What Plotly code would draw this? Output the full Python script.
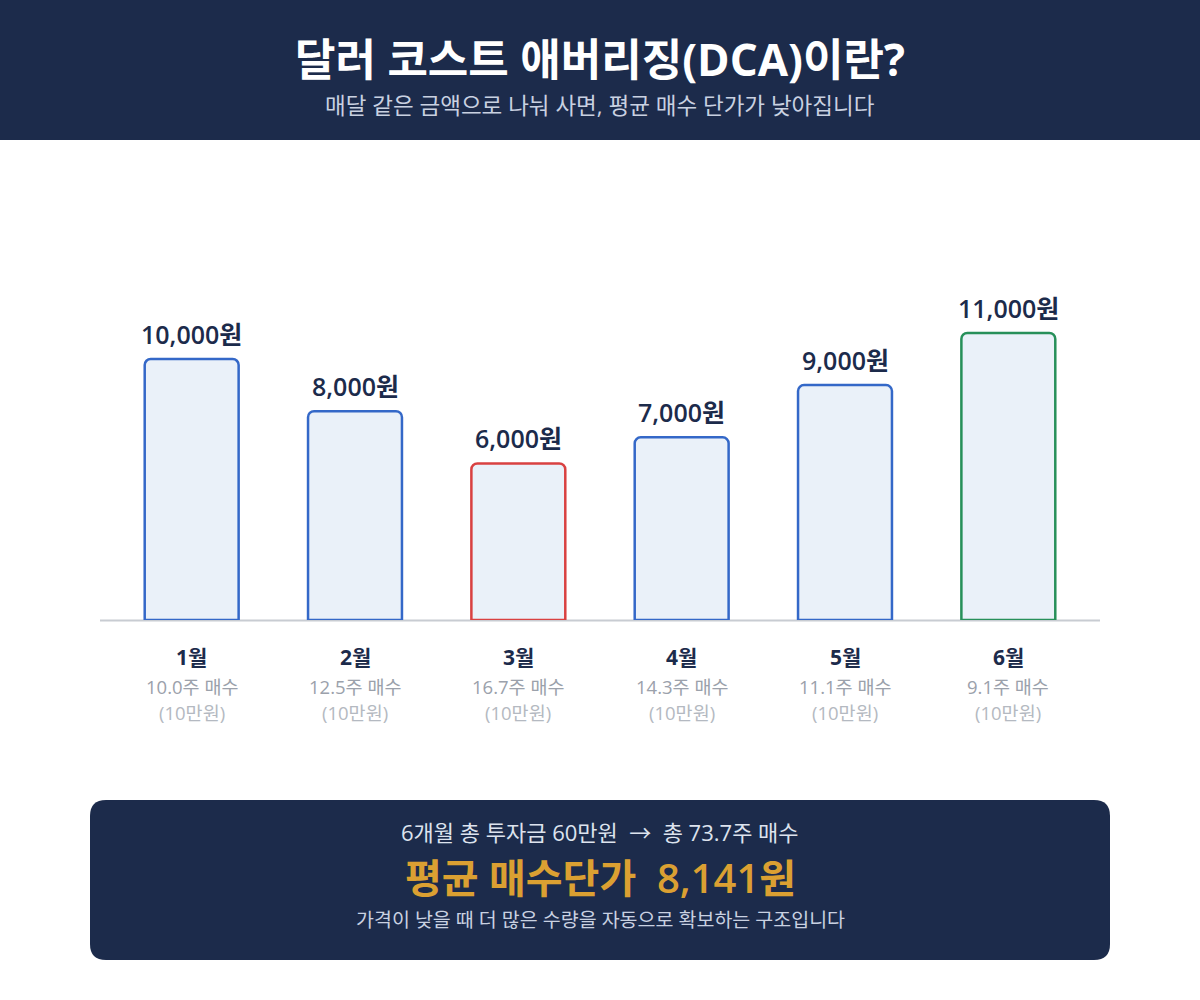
import plotly.graph_objects as go

months = ["1월", "2월", "3월", "4월", "5월", "6월"]
prices = [10000, 8000, 6000, 7000, 9000, 11000]
shares = ["10.0주 매수", "12.5주 매수", "16.7주 매수", "14.3주 매수", "11.1주 매수", "9.1주 매수"]
invest = ["(10만원)"] * 6
edge_colors = ["#3468c8", "#3468c8", "#d94141", "#3468c8", "#3468c8", "#27905a"]

title = "달러 코스트 애버리징(DCA)이란?"
subtitle = "매달 같은 금액으로 나눠 사면, 평균 매수 단가가 낮아집니다"
summary1 = "6개월 총 투자금 60만원  →  총 73.7주 매수"
summary2 = "평균 매수단가  8,141원"
summary3 = "가격이 낮을 때 더 많은 수량을 자동으로 확보하는 구조입니다"

FONT = "Open Sans, Noto Sans CJK KR"
NAVY = "#1c2b4b"
W, H = 1200, 1000

def py(pix):
    return 1 - pix / H

def px(pix):
    return pix / W

fig = go.Figure()
fig.add_trace(go.Bar(
    x=list(range(len(months))), y=prices, width=0.575,
    marker=dict(color="#eaf1f9", line=dict(color=edge_colors, width=2.5), cornerradius=6),
    hoverinfo="skip",
))

annotations = []
for i, (m, p, s, inv) in enumerate(zip(months, prices, shares, invest)):
    annotations.append(dict(x=i, y=p, xref="x", yref="y", text=f"{p:,}원", showarrow=False,
                            yanchor="bottom", yshift=6,
                            font=dict(family=FONT, size=25, color=NAVY, weight=600)))
    annotations.append(dict(x=i, y=py(657), xref="x", yref="paper", text=m, showarrow=False,
                            yanchor="middle", font=dict(family=FONT, size=21, color=NAVY, weight=700)))
    annotations.append(dict(x=i, y=py(686), xref="x", yref="paper", text=s, showarrow=False,
                            yanchor="middle", font=dict(family=FONT, size=18.5, color="#9ba1ab")))
    annotations.append(dict(x=i, y=py(712), xref="x", yref="paper", text=inv, showarrow=False,
                            yanchor="middle", font=dict(family=FONT, size=18.5, color="#b4b9c1")))

annotations += [
    dict(x=0.5, y=py(59), xref="paper", yref="paper", text=title, showarrow=False,
         yanchor="middle", font=dict(family=FONT, size=44, color="white", weight=700)),
    dict(x=0.5, y=py(106), xref="paper", yref="paper", text=subtitle, showarrow=False,
         yanchor="middle", font=dict(family=FONT, size=22.5, color="#c9d1e1")),
    dict(x=0.5, y=py(832), xref="paper", yref="paper", text=summary1, showarrow=False,
         yanchor="middle", font=dict(family=FONT, size=22, color="#dde3ee")),
    dict(x=0.5, y=py(877), xref="paper", yref="paper", text=summary2, showarrow=False,
         yanchor="middle", font=dict(family=FONT, size=40, color="#dba032", weight=600)),
    dict(x=0.5, y=py(919), xref="paper", yref="paper", text=summary3, showarrow=False,
         yanchor="middle", font=dict(family=FONT, size=19.5, color="#c9d1e1")),
]

x0, x1, y0, y1, r = 90, 1110, 800, 960, 16
def P(a, b):
    return f"{px(a):.5f},{py(b):.5f}"
path = (f"M {P(x0 + r, y0)} L {P(x1 - r, y0)} Q {P(x1, y0)} {P(x1, y0 + r)} "
        f"L {P(x1, y1 - r)} Q {P(x1, y1)} {P(x1 - r, y1)} "
        f"L {P(x0 + r, y1)} Q {P(x0, y1)} {P(x0, y1 - r)} "
        f"L {P(x0, y0 + r)} Q {P(x0, y0)} {P(x0 + r, y0)} Z")

shapes = [
    dict(type="rect", xref="paper", yref="paper", x0=0, x1=1, y0=py(140), y1=1,
         fillcolor=NAVY, line=dict(width=0), layer="below"),
    dict(type="line", xref="paper", yref="paper", x0=px(100), x1=px(1100), y0=py(620.5), y1=py(620.5),
         line=dict(color="#c8ccd2", width=2), layer="below"),
    dict(type="path", xref="paper", yref="paper", path=path, fillcolor=NAVY, line=dict(width=0)),
]

fig.update_layout(
    width=W, height=H, margin=dict(l=0, r=0, t=0, b=0),
    paper_bgcolor="white", plot_bgcolor="rgba(0,0,0,0)",
    showlegend=False,
    xaxis=dict(domain=[px(110), px(1090)], range=[-0.5, 5.5], visible=False, fixedrange=True),
    yaxis=dict(domain=[py(620), py(228.5)], range=[0, 15000], visible=False, fixedrange=True),
    annotations=annotations, shapes=shapes,
    font=dict(family=FONT),
)
fig.write_html("out.html", config={"displayModeBar": False},
               post_script="document.body.style.margin='0';document.body.style.padding='0';")
